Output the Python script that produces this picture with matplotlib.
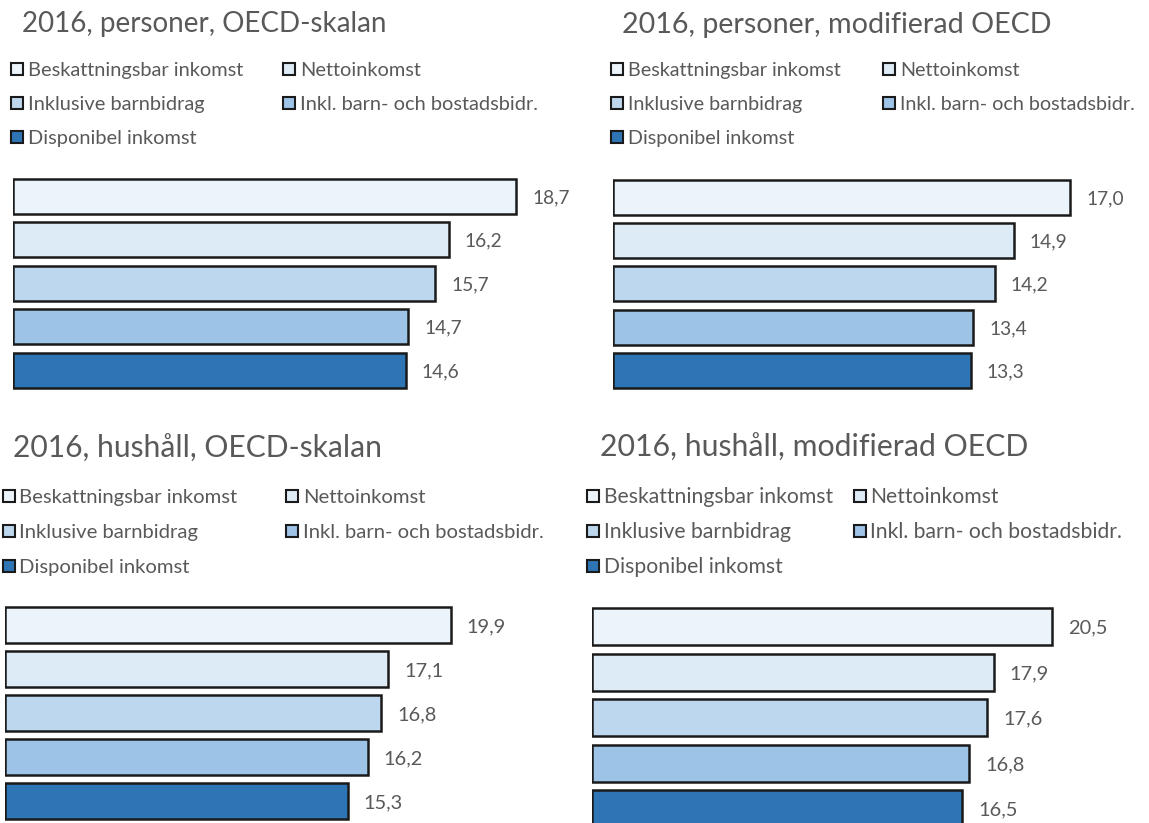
import matplotlib
matplotlib.use("Agg")
import matplotlib.pyplot as plt
from matplotlib.patches import Rectangle

# Data
categories = [
    "Beskattningsbar inkomst",
    "Nettoinkomst",
    "Inklusive barnbidrag",
    "Inkl. barn- och bostadsbidr.",
    "Disponibel inkomst",
]
titles = [
    "2016, personer, OECD-skalan",
    "2016, personer, modifierad OECD",
    "2016, hushåll, OECD-skalan",
    "2016, hushåll, modifierad OECD",
]
personer_oecd = [18.7, 16.2, 15.7, 14.7, 14.6]
personer_mod = [17.0, 14.9, 14.2, 13.4, 13.3]
hushall_oecd = [19.9, 17.1, 16.8, 16.2, 15.3]
hushall_mod = [20.5, 17.9, 17.6, 16.8, 16.5]

colors = ["#EBF3FB", "#DDEBF7", "#BDD7EE", "#9DC3E6", "#2E75B6"]
TEXT = "#595959"
EDGE = "#1a1a1a"

W, H = 1149, 823
plt.rcParams["font.family"] = ["Lato", "DejaVu Sans"]
fig = plt.figure(figsize=(W / 100, H / 100), dpi=100)


def fx(x):
    return x / W


def fy(y):
    return 1 - y / H


# layout of each panel in pixels
panels = [
    dict(values=personer_oecd, title=titles[0], tx=22, ty=32, tfs=20.0,
         lfs=14.4, vfs=13.8,
         lx=(11, 283), ltx=(28, 300), rows=(69, 103, 137),
         x0=13, scale=26.9, c1=196, pitch=43.6, bh=35),
    dict(values=personer_mod, title=titles[1], tx=622, ty=33, tfs=20.6,
         lfs=14.2, vfs=13.8,
         lx=(611, 883), ltx=(628, 900), rows=(69, 103, 137),
         x0=613, scale=26.9, c1=197, pitch=43.4, bh=35),
    dict(values=hushall_oecd, title=titles[2], tx=13, ty=458, tfs=21.6,
         lfs=14.6, vfs=14.4,
         lx=(3, 286), ltx=(19, 303), rows=(496, 531, 566),
         x0=5, scale=22.4, c1=625, pitch=44.0, bh=35.5),
    dict(values=hushall_mod, title=titles[3], tx=600, ty=457, tfs=21.8,
         lfs=15.2, vfs=14.4,
         lx=(587, 854), ltx=(604, 870), rows=(496, 531, 566),
         x0=592, scale=22.44, c1=626.5, pitch=45.5, bh=37),
]

for p in panels:
    # title
    fig.text(fx(p["tx"]), fy(p["ty"]), p["title"], fontsize=p["tfs"],
             color=TEXT, ha="left", va="baseline")

    # legend laid out in two columns, three rows
    for k, (name, col) in enumerate(zip(categories, colors)):
        r, c = divmod(k, 2)
        yc = p["rows"][r]
        mx = p["lx"][c]
        s = 12
        fig.add_artist(Rectangle((fx(mx), fy(yc + s / 2)), s / W, s / H,
                                 transform=fig.transFigure, facecolor=col,
                                 edgecolor=EDGE, linewidth=1.5))
        fig.text(fx(p["ltx"][c]), fy(yc + 7), name, fontsize=p["lfs"],
                 color=TEXT, ha="left", va="baseline")

    # bar axes
    n = len(p["values"])
    top = p["c1"] - p["pitch"] / 2
    height_px = p["pitch"] * n
    width_px = 540
    ax = fig.add_axes([fx(p["x0"]), fy(top + height_px),
                       width_px / W, height_px / H])
    ax.set_xlim(0, width_px / p["scale"])
    ax.set_ylim(n - 0.5, -0.5)
    ax.barh(range(n), p["values"], height=p["bh"] / p["pitch"],
            color=colors, edgecolor=EDGE, linewidth=1.8)
    for i, v in enumerate(p["values"]):
        ax.annotate(f"{v:.1f}".replace(".", ","), xy=(v, i),
                    xytext=(11.5, -5), textcoords="offset points",
                    fontsize=p["vfs"], color=TEXT, ha="left", va="baseline")
    ax.axis("off")

fig.savefig("out.png", dpi=100)
